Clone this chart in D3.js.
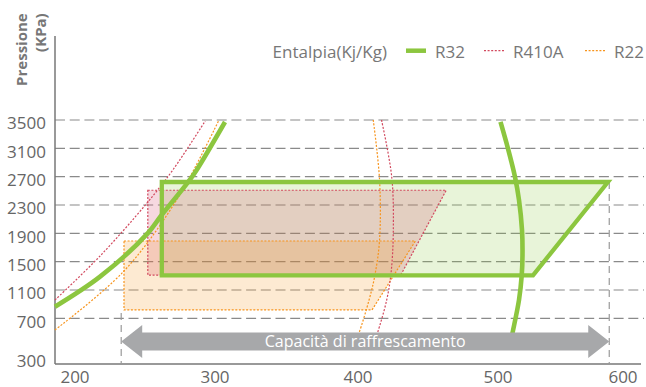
<!DOCTYPE html>
<html><head><meta charset="utf-8">
<script src="https://cdn.jsdelivr.net/npm/d3@7/dist/d3.min.js"></script>
<style>body{margin:0;background:#fff}svg{display:block;font-family:"Open Sans",sans-serif}</style>
</head><body><svg id="c" width="646" height="387"></svg>
<script>
// ---- data ----
const xTicks = [200, 300, 400, 500, 600];
const yTicks = [300, 700, 1100, 1500, 1900, 2300, 2700, 3100, 3500];
const series = ["R32", "R410A", "R22"];
// operating envelopes [enthalpy kJ/kg, pressure kPa]
const r32Box   = [[262, 2625], [588, 2625], [528, 1307], [262, 1307]];
const r410aBox = [[252, 2508], [463, 2508], [430.5, 1310], [252, 1310]];
const r22Box   = [[235, 1792], [441, 1792], [410, 818], [235, 818]];
// saturation curves (liquid / vapour)
const r32Liquid   = [[185.7, 864], [217.9, 1288], [251.9, 1900], [261.9, 2159], [280.9, 2625], [286.9, 2795], [307, 3472]];
const r32Vapour   = [[502, 3472], [508, 3095], [513.6, 2695], [516.8, 2371], [519.2, 1947], [519.6, 1594], [519, 1312], [516.8, 959], [511.6, 550], [510.5, 479]];
const r410aLiquid = [[185.7, 959], [217.9, 1580], [251.4, 2328], [269.9, 2795], [293, 3486]];
const r410aVapour = [[416.8, 3500], [424.1, 2696], [425.2, 1905], [423.6, 1340], [420.5, 959], [413.9, 550], [412.1, 479]];
const r22Liquid   = [[185.7, 581], [234.5, 1358], [272.6, 2371], [302.8, 3500]];
const r22Vapour   = [[410.9, 3500], [415.4, 2653], [415.4, 1806], [412.1, 1312], [407.9, 959], [400.7, 550], [398.6, 479]];
const capacityRange = [233, 589];
const labels = {yTitle1: "Pressione", yTitle2: "(KPa)", legendTitle: "Entalpia(Kj/Kg)", arrow: "Capacità di raffrescamento"};

// ---- scales ----
const x = d3.scaleLinear().domain(xTicks).range([75, 215, 358, 498, 623]);
const y = d3.scaleLinear().domain([300, 700, 3500]).range([357.5, 318.33, 120]);
const axisLeft = 55, axisBottom = 364, plotRight = 644;

const GREEN = "#8cc63f", RED = "#d2495e", ORANGE = "#f7941d", GREY = "#777";
const svg = d3.select("#c");

// grid lines
svg.append("g").selectAll("line").data(yTicks.filter(d => d >= 700)).join("line")
  .attr("x1", axisLeft).attr("x2", plotRight)
  .attr("y1", d => y(d)).attr("y2", d => y(d))
  .attr("stroke", "#8a8a8a").attr("stroke-width", 1.2).attr("stroke-dasharray", "10,4.7");

// y tick labels
svg.append("g").selectAll("text").data(yTicks).join("text")
  .attr("x", 46).attr("y", d => y(d) + 9.3).attr("text-anchor", "end")
  .attr("font-size", 17).attr("fill", "#666").text(d => d);
// x tick labels
svg.append("g").selectAll("text").data(xTicks).join("text")
  .attr("x", d => x(d)).attr("y", 382.5).attr("text-anchor", "middle")
  .attr("font-size", 17).attr("fill", "#666").text(d => d);

// axes lines
svg.append("line").attr("x1", axisLeft).attr("x2", axisLeft).attr("y1", 36).attr("y2", axisBottom)
  .attr("stroke", GREY).attr("stroke-width", 1.5);
svg.append("line").attr("x1", axisLeft).attr("x2", 641).attr("y1", axisBottom).attr("y2", axisBottom)
  .attr("stroke", GREY).attr("stroke-width", 1.5);

// y title
svg.append("text").attr("transform", "translate(27,13.3) rotate(-90)").attr("text-anchor", "end")
  .attr("font-size", 15).attr("font-weight", "bold").attr("fill", GREY).text(labels.yTitle1);
svg.append("text").attr("transform", "translate(46,13.3) rotate(-90)").attr("text-anchor", "end")
  .attr("font-size", 15).attr("font-weight", "bold").attr("fill", GREY).text(labels.yTitle2);

// capacity vertical dashed lines
svg.append("line").attr("x1", x(capacityRange[0])).attr("x2", x(capacityRange[0]))
  .attr("y1", 313).attr("y2", axisBottom).attr("stroke", "#999").attr("stroke-width", 1.2).attr("stroke-dasharray", "7,5");
svg.append("line").attr("x1", x(capacityRange[1])).attr("x2", x(capacityRange[1]))
  .attr("y1", y(r32Box[0][1])).attr("y2", axisBottom).attr("stroke", "#999").attr("stroke-width", 1.2).attr("stroke-dasharray", "7,5");

const poly = pts => "M" + pts.map(p => x(p[0]) + "," + y(p[1])).join("L") + "Z";
const curve = d3.line().x(d => x(d[0])).y(d => y(d[1])).curve(d3.curveCatmullRom.alpha(0.5));

// fills
svg.append("path").attr("d", poly(r32Box)).attr("fill", GREEN).attr("fill-opacity", 0.2);
svg.append("path").attr("d", poly(r410aBox)).attr("fill", "#d23c64").attr("fill-opacity", 0.2);
svg.append("path").attr("d", poly(r22Box)).attr("fill", ORANGE).attr("fill-opacity", 0.2);
// dotted outlines
svg.append("path").attr("d", poly(r22Box)).attr("fill", "none").attr("stroke", ORANGE).attr("stroke-width", 1.2).attr("stroke-dasharray", "2,1.6");
svg.append("path").attr("d", poly(r410aBox)).attr("fill", "none").attr("stroke", RED).attr("stroke-width", 1.2).attr("stroke-dasharray", "2,1.6");
// dotted curves
[[r410aLiquid, RED], [r410aVapour, RED], [r22Liquid, ORANGE], [r22Vapour, ORANGE]].forEach(([d, c]) => {
  svg.append("path").attr("d", curve(d)).attr("fill", "none").attr("stroke", c)
    .attr("stroke-width", 1.2).attr("stroke-dasharray", "2,1.6");
});
// R32 box outline
svg.append("path").attr("d", poly(r32Box)).attr("fill", "none").attr("stroke", GREEN)
  .attr("stroke-width", 4.3).attr("stroke-linejoin", "miter");
// R32 curves
[r32Liquid, r32Vapour].forEach(d => {
  svg.append("path").attr("d", curve(d)).attr("fill", "none").attr("stroke", GREEN).attr("stroke-width", 4.6);
});

// capacity arrow
const ax0 = x(capacityRange[0]), ax1 = x(capacityRange[1]), ay = 341.5, hs = 9, hh = 16.5, hl = 21;
svg.append("path").attr("fill", "#a7a8aa")
  .attr("d", `M${ax0},${ay} L${ax0 + hl},${ay - hh} L${ax0 + hl},${ay - hs} L${ax1 - hl},${ay - hs} L${ax1 - hl},${ay - hh} L${ax1},${ay} L${ax1 - hl},${ay + hh} L${ax1 - hl},${ay + hs} L${ax0 + hl},${ay + hs} L${ax0 + hl},${ay + hh} Z`);
svg.append("text").attr("x", (ax0 + ax1) / 2).attr("y", 347).attr("text-anchor", "middle")
  .attr("font-size", 16).attr("fill", "#fff").text(labels.arrow);

// legend
const lg = svg.append("g").attr("font-size", 17).attr("fill", GREY);
lg.append("text").attr("x", 387).attr("y", 58.3).attr("text-anchor", "end").text(labels.legendTitle);
const legendItems = [
  {name: series[0], c: GREEN, w: 4.5, dash: null, x0: 406, tx: 435},
  {name: series[1], c: RED, w: 1.2, dash: "2,1.6", x0: 484, tx: 513},
  {name: series[2], c: ORANGE, w: 1.2, dash: "2,1.6", x0: 585, tx: 614}
];
legendItems.forEach(it => {
  lg.append("line").attr("x1", it.x0).attr("x2", it.x0 + 20).attr("y1", 50.7).attr("y2", 50.7)
    .attr("stroke", it.c).attr("stroke-width", it.w).attr("stroke-dasharray", it.dash);
  lg.append("text").attr("x", it.tx).attr("y", 58.3).text(it.name);
});
</script></body></html>
